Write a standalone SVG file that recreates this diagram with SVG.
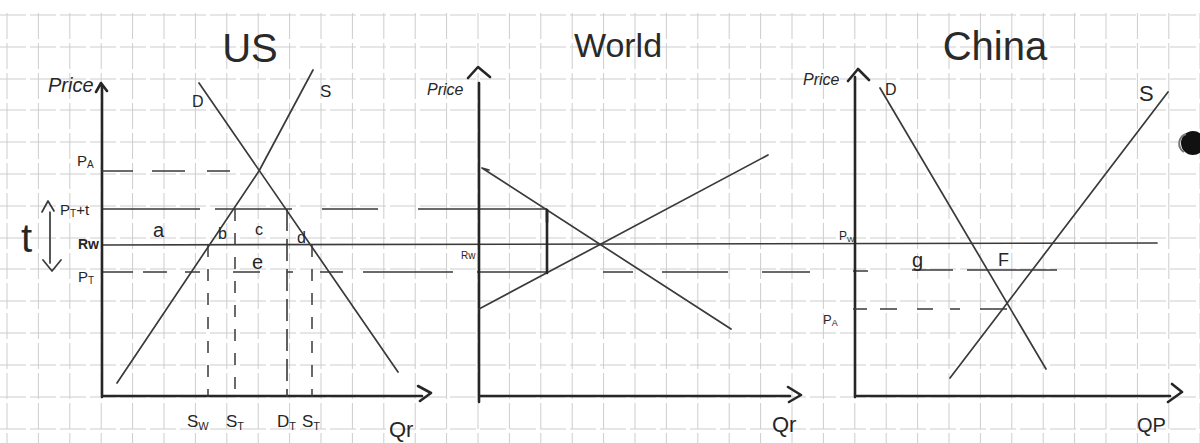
<svg xmlns="http://www.w3.org/2000/svg" width="1200" height="443" viewBox="0 0 1200 443">
<defs>
<style>
.grid{stroke:#cdcdcd;stroke-width:1;stroke-dasharray:26 4;fill:none}
.ax{stroke:#262626;stroke-width:2.6;fill:none;stroke-linecap:round;stroke-linejoin:round}
.ln{stroke:#3a3a3a;stroke-width:1.7;fill:none;stroke-linecap:round;stroke-linejoin:round}
.dash{stroke:#3a3a3a;stroke-width:1.5;fill:none;stroke-dasharray:12 12}
.seg{stroke:#3a3a3a;stroke-width:1.6;fill:none}
.t{font-family:"Liberation Sans",Arial,sans-serif;fill:#262626}
.title{font-family:"Liberation Sans",Arial,sans-serif;fill:#2a2a2a;font-weight:300}
</style>
</defs>
<rect width="1200" height="443" fill="#ffffff"/>
<g id="grid">
<path class="grid" d="M7,13V443M38.4,13V443M69.8,13V443M101.2,13V443M132.6,13V443M164,13V443M195.4,13V443M226.8,13V443M258.2,13V443M289.6,13V443M321,13V443M352.4,13V443M383.8,13V443M415.2,13V443M446.6,13V443M478,13V443M509.4,13V443M540.8,13V443M572.2,13V443M603.6,13V443M635,13V443M666.4,13V443M697.8,13V443M729.2,13V443M760.6,13V443M792,13V443M823.4,13V443M854.8,13V443M886.2,13V443M917.6,13V443M949,13V443M980.4,13V443M1011.8,13V443M1043.2,13V443M1074.6,13V443M1106,13V443M1137.4,13V443M1168.8,13V443M1200,13V443"/>
<path class="grid" d="M0,15H1200M0,47H1200M0,79H1200M0,110H1200M0,142H1200M0,174H1200M0,206H1200M0,238H1200M0,269H1200M0,301H1200M0,333H1200M0,365H1200M0,397H1200M0,429H1200"/>
</g>
<g id="titles">
<text class="title" x="250" y="62" font-size="40" text-anchor="middle">US</text>
<text class="title" x="618" y="57" font-size="34" text-anchor="middle">World</text>
<text class="title" x="995" y="60" font-size="40" text-anchor="middle">China</text>
</g>
<g id="connectors">
<path class="ln" d="M102,245L1157,243"/>
<path class="seg" d="M102,209H200M215,209H292M322,209H378M418,209H547"/>
<path class="seg" d="M102,272H133M143,272H167M185,272H200M233,272H260M287,272H293M320,272H343M363,272H453M477,272H547M603,272H633M662,272H728M762,272H810M853,271H868M912,270H953M967,270H1057"/>
</g>
<g id="us-panel">
<path class="ax" d="M102,85V397M102,396H422M418,386L431,393L420,401M96,92L101,83L107,91"/>
<path class="ln" d="M199,83L398,372"/>
<path class="ln" d="M117,383L259,171L313,70"/>
<path class="seg" d="M102,171H133M152,171H185M207,171H230"/>
<path class="dash" d="M208,245V397M235,209V397M312,245V397"/>
<path class="seg" stroke-dasharray="22 8" d="M287,209V397"/>
<path class="ln" d="M50,212V263M42,212L48,201L54,211M43,260L52,271L61,260"/>
<text class="t" x="48" y="92" font-size="20" font-style="italic">Price</text>
<text class="t" x="192" y="107" font-size="16">D</text>
<text class="t" x="320" y="97" font-size="17">S</text>
<text class="t" x="77" y="166" font-size="15">P<tspan font-size="10" dy="2">A</tspan></text>
<text class="t" x="60" y="215" font-size="15">P<tspan font-size="10" dy="2">T</tspan><tspan dy="-2">+t</tspan></text>
<text class="t" x="21" y="252" font-size="40" font-weight="300">t</text>
<text class="t" x="78" y="249" font-size="14" font-weight="bold">Rw</text>
<text class="t" x="78" y="282" font-size="15">P<tspan font-size="10" dy="2">T</tspan></text>
<text class="t" x="153" y="237" font-size="20">a</text>
<text class="t" x="218" y="239" font-size="16">b</text>
<text class="t" x="255" y="235" font-size="16">c</text>
<text class="t" x="297" y="243" font-size="16">d</text>
<text class="t" x="252" y="269" font-size="20">e</text>
<text class="t" x="187" y="427" font-size="17">S<tspan font-size="11" dy="3">W</tspan></text>
<text class="t" x="226" y="427" font-size="17">S<tspan font-size="11" dy="3">T</tspan></text>
<text class="t" x="277" y="427" font-size="17">D<tspan font-size="11" dy="3">T</tspan></text>
<text class="t" x="302" y="427" font-size="17">S<tspan font-size="11" dy="3">T</tspan></text>
<text class="t" x="389" y="437" font-size="22">Qr</text>
</g>
<g id="world-panel">
<path class="ax" d="M479,83V402M479,396H790M788,387L801,395L789,402M468,78L478,67L490,77"/>
<path class="ln" d="M482,168L731,329M482,168L489,170"/>
<path class="ln" d="M479,309L768,155"/>
<path class="ax" d="M547,210V273"/>
<path class="ax" stroke-width="4" d="M547,210V222"/>
<text class="t" x="427" y="95" font-size="16" font-style="italic">Price</text>
<text class="t" x="461" y="259" font-size="10">Rw</text>
<text class="t" x="772" y="432" font-size="22">Qr</text>
</g>
<g id="china-panel">
<path class="ax" d="M855,77V397M855,396H1170M1172,384L1182,392L1168,402M848,81L858,69L869,80"/>
<path class="ln" d="M880,88L1046,369"/>
<path class="ln" d="M950,378L1168,92"/>
<path class="seg" d="M853,309H867M880,309H897M917,309H933M950,309H960M980,309H1007"/>
<text class="t" x="803" y="85" font-size="16" font-style="italic">Price</text>
<text class="t" x="885" y="95" font-size="16">D</text>
<text class="t" x="1139" y="101" font-size="22">S</text>
<text class="t" x="839" y="240" font-size="12">P<tspan font-size="8" dy="2">W</tspan></text>
<text class="t" x="912" y="267" font-size="20">g</text>
<text class="t" x="998" y="266" font-size="18">F</text>
<text class="t" x="823" y="324" font-size="13">P<tspan font-size="9" dy="2">A</tspan></text>
<text class="t" x="1137" y="432" font-size="20">QP</text>
<circle cx="1193" cy="143" r="12" fill="#111"/>
<path d="M1186,134 A10,10 0 0 0 1184,152" stroke="#777" stroke-width="2" fill="none"/>
</g>
</svg>
